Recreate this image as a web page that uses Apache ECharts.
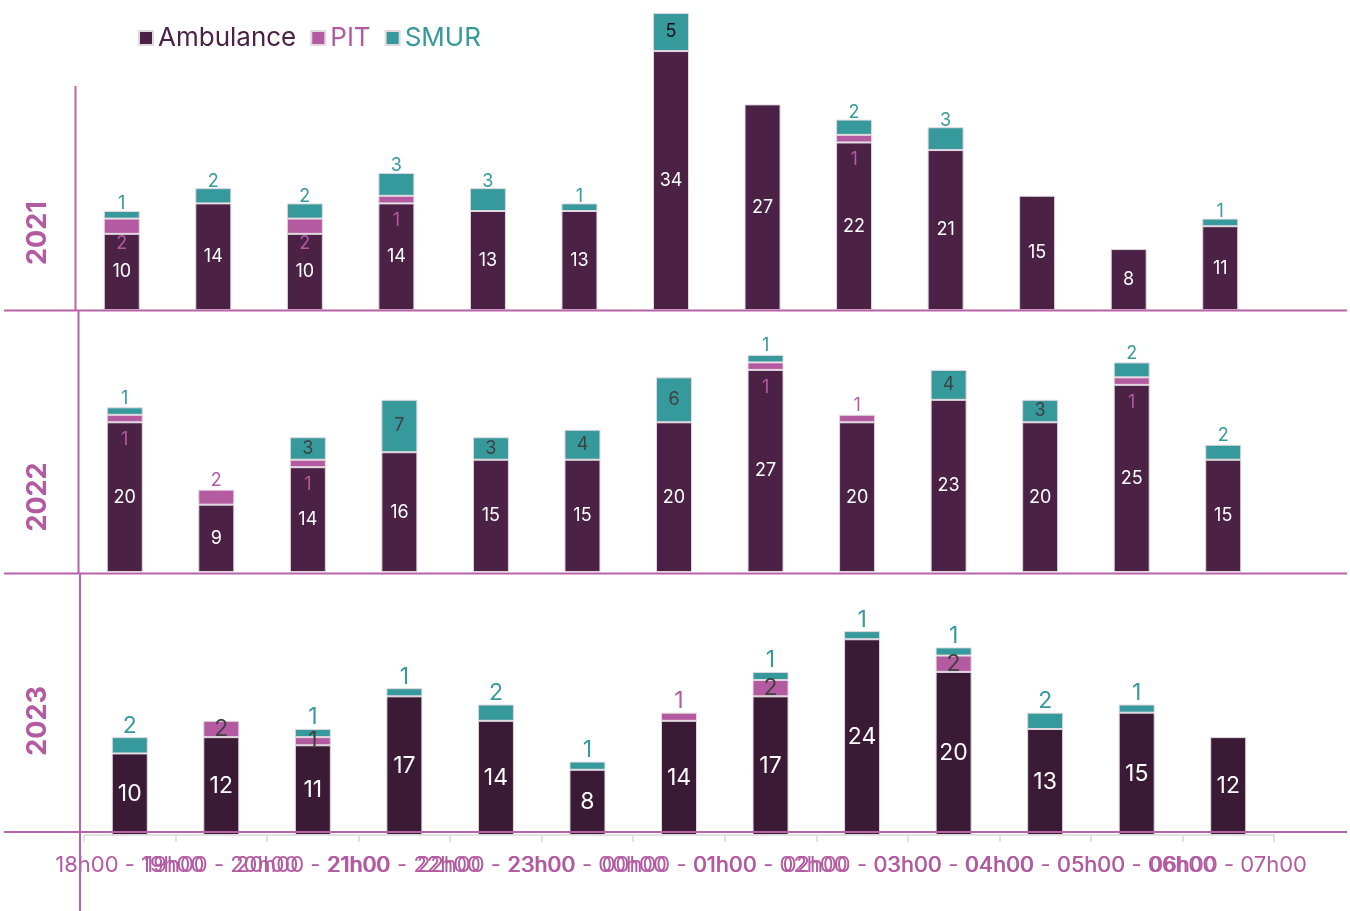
<!DOCTYPE html>
<html>
<head>
<meta charset="utf-8">
<script src="https://cdn.jsdelivr.net/npm/echarts@6/dist/echarts.min.js"></script>
<style>
    html, body { margin: 0; padding: 0; background: #ffffff; }
    #chart { width: 1350px; height: 911px; }
</style>
</head>
<body>
<div id="chart"></div>
<script>
    // tranches horaires
    var hours = ['18h00', '19h00', '20h00', '21h00', '22h00', '23h00', '00h00',
                 '01h00', '02h00', '03h00', '04h00', '05h00', '06h00', '07h00'];
    var years = ['2021', '2022', '2023'];

    // 2021
    var ambulance2021 = [10, 14, 10, 14, 13, 13, 34, 27, 22, 21, 15, 8, 11];
    var pit2021       = [2, 0, 2, 1, 0, 0, 0, 0, 1, 0, 0, 0, 0];
    var smur2021      = [1, 2, 2, 3, 3, 1, 5, 0, 2, 3, 0, 0, 1];
    // 2022
    var ambulance2022 = [20, 9, 14, 16, 15, 15, 20, 27, 20, 23, 20, 25, 15];
    var pit2022       = [1, 2, 1, 0, 0, 0, 0, 1, 1, 0, 0, 1, 0];
    var smur2022      = [1, 0, 3, 7, 3, 4, 6, 1, 0, 4, 3, 2, 2];
    // 2023
    var ambulance2023 = [10, 12, 11, 17, 14, 8, 14, 17, 24, 20, 13, 15, 12];
    var pit2023       = [0, 2, 1, 0, 0, 0, 1, 2, 0, 2, 0, 0, 0];
    var smur2023      = [2, 0, 1, 1, 2, 1, 0, 1, 1, 1, 2, 1, 0];

    var categories = [];
    for (var h = 0; h < hours.length - 1; h++) {
        categories.push(hours[h] + ' - ' + hours[h + 1]);
    }

    var PINK = '#b35aa1';
    var TEAL = '#36999b';
    var LINE = '#b763a8';
    var FONT = 'Inter, "Noto Sans", sans-serif';

    //un panneau par année
    var panels = [
        { amb: ambulance2021, pit: pit2021, smur: smur2021, ambColor: '#4b2245', fs: 18, topDist: -2,
          grid: { left: 76, top: 13, width: 1190, height: 297 }, max: 39, smurInsideMin: 5, big: false },
        { amb: ambulance2022, pit: pit2022, smur: smur2022, ambColor: '#4b2245', fs: 18, topDist: 0,
          grid: { left: 79, top: 310, width: 1190, height: 262 }, max: 35, smurInsideMin: 3, big: false },
        { amb: ambulance2023, pit: pit2023, smur: smur2023, ambColor: '#3b1a35', fs: 23, topDist: 0,
          grid: { left: 84, top: 574, width: 1190, height: 261 }, max: 32, smurInsideMin: 99, big: true }
    ];

    var grids = [], xAxes = [], yAxes = [], series = [];

    panels.forEach(function (p, k) {
        grids.push(p.grid);
        var last = k === panels.length - 1;
        xAxes.push({
            type: 'category',
            gridIndex: k,
            data: categories,
            show: last,
            axisLine: { show: true, lineStyle: { color: '#d9d9d9', width: 1.5 } },
            axisTick: { show: true, length: 7, lineStyle: { color: '#d9d9d9', width: 1.5 } },
            axisLabel: {
                interval: 0,
                hideOverlap: false,
                margin: 19,
                color: PINK,
                fontSize: 22,
                fontFamily: FONT
            }
        });
        yAxes.push({ type: 'value', gridIndex: k, min: 0, max: p.max, show: false, splitLine: { show: false } });

        var fs = p.fs;
        var border = { borderColor: '#e2d8e0', borderWidth: 1 };

        var ambData = p.amb.map(function (v) {
            return { value: v };
        });

        var pitData = p.pit.map(function (v, i) {
            if (!v) return '-';
            var lbl;
            if (p.big) {
                if (!p.smur[i] && v < 2) lbl = { position: 'top', distance: 0, color: PINK };
                else lbl = { position: 'inside', color: '#404040' };
            } else {
                if (!p.smur[i]) lbl = { position: 'top', distance: p.topDist, color: PINK };
                else lbl = { position: 'insideTop', distance: 16, color: PINK };
            }
            return { value: v, label: lbl };
        });

        var smurData = p.smur.map(function (v) {
            if (!v) return '-';
            var lbl;
            if (v >= p.smurInsideMin) lbl = { position: 'inside', color: k === 0 ? '#111111' : '#404040' };
            else lbl = { position: 'top', distance: p.topDist, color: TEAL };
            return { value: v, label: lbl };
        });

        var stack = 'y' + years[k];
        series.push({
            name: 'Ambulance', type: 'bar', stack: stack, xAxisIndex: k, yAxisIndex: k,
            barWidth: 36,
            itemStyle: Object.assign({ color: p.ambColor }, border),
            label: { show: true, position: 'inside', color: '#ffffff', fontSize: fs, fontFamily: FONT },
            data: ambData
        });
        series.push({
            name: 'PIT', type: 'bar', stack: stack, xAxisIndex: k, yAxisIndex: k,
            barWidth: 36,
            itemStyle: Object.assign({ color: PINK }, border),
            label: { show: true, fontSize: fs, fontFamily: FONT },
            data: pitData
        });
        series.push({
            name: 'SMUR', type: 'bar', stack: stack, xAxisIndex: k, yAxisIndex: k,
            barWidth: 36,
            itemStyle: Object.assign({ color: TEAL }, border),
            label: { show: true, fontSize: fs, fontFamily: FONT },
            data: smurData
        });
    });

    //traits roses et titres d'année
    var lineStyle = { stroke: LINE, lineWidth: 2 };
    var graphics = [
        { type: 'line', z: 100, shape: { x1: 4, y1: 310.5, x2: 1347, y2: 310.5 }, style: lineStyle },
        { type: 'line', z: 100, shape: { x1: 4, y1: 573.5, x2: 1347, y2: 573.5 }, style: lineStyle },
        { type: 'line', z: 100, shape: { x1: 4, y1: 832, x2: 1347, y2: 832 }, style: lineStyle },
        { type: 'line', z: 100, shape: { x1: 75.5, y1: 86, x2: 75.5, y2: 311 }, style: lineStyle },
        { type: 'line', z: 100, shape: { x1: 78.5, y1: 311, x2: 78.5, y2: 574 }, style: lineStyle },
        { type: 'line', z: 100, shape: { x1: 80, y1: 574, x2: 80, y2: 911 }, style: lineStyle }
    ];
    var yearCenters = [233, 497, 721];
    years.forEach(function (y, k) {
        graphics.push({
            type: 'text', z: 100, x: 38, y: yearCenters[k], rotation: Math.PI / 2,
            style: {
                text: y, fill: PINK, align: 'center', verticalAlign: 'middle',
                font: 'bold 27px ' + FONT
            }
        });
    });

    var chart = echarts.init(document.getElementById('chart'));
    chart.setOption({
        backgroundColor: '#ffffff',
        animation: false,
        legend: {
            left: 133,
            top: 20,
            icon: 'rect',
            itemWidth: 14,
            itemHeight: 14,
            itemGap: 14,
            textStyle: { fontSize: 26, fontFamily: FONT },
            data: [
                { name: 'Ambulance', textStyle: { color: '#4b2245' } },
                { name: 'PIT', textStyle: { color: PINK } },
                { name: 'SMUR', textStyle: { color: TEAL } }
            ]
        },
        grid: grids,
        xAxis: xAxes,
        yAxis: yAxes,
        series: series,
        graphic: graphics
    });
</script>
</body>
</html>
